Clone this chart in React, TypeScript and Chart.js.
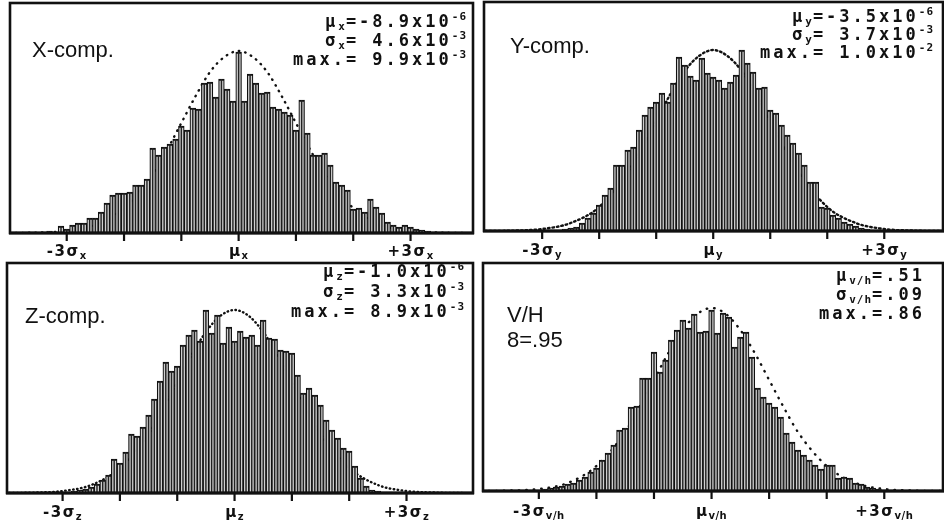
import React, { useEffect, useRef } from "react";
import { Chart, registerables } from "chart.js";

Chart.register(...registerables);

// Histogram bins are 0.1 sigma wide; bin centre = (START + i) * BIN_WIDTH (in sigma units)
const BIN_WIDTH = 0.1;

const X_START = -37;
const X_COUNTS = [1,1,0.5,1,2,1,7,4,8,10,10,15,15,21,30,38,40,40,41,48,48,54,85,78,86,89,94,107,103,125,124,150,151,136,154,144,132,181,132,159,150,140,141,126,124,121,118,103,133,100,78,78,80,68,51,48,43,24,25,21,34,26,20,11,8,6,8,6,4,3,2,1,1,1,0.5,0.5];

const Y_START = -30;
const Y_COUNTS = [0.5,1,1,1,2,3,4,8,13,18,26,36,43,66,66,81,84,101,116,124,129,138,129,148,174,166,155,151,173,158,154,151,143,149,156,181,168,159,143,144,121,118,106,96,88,78,66,49,49,24,23,16,13,9,7,5,3,2,1,1,0.5];

const Z_START = -32;
const Z_COUNTS = [0.5,1,1,1,2,3,4,6,9,13,18,34,30,41,59,57,66,78,94,112,131,122,127,148,158,163,152,183,160,178,150,166,152,162,156,158,148,173,155,154,143,142,140,118,100,105,98,88,73,63,55,45,42,27,15,7,3,2,1,1,0.5];

const VH_START = -36;
const VH_COUNTS = [0.5,0.5,1,1,1,1,1,2,3,4,5,7,8,11,14,19,23,31,38,46,61,63,84,85,113,113,139,119,131,151,161,171,163,177,159,160,181,158,178,174,144,154,159,134,103,94,88,84,74,58,49,41,36,31,26,22,26,26,13,14,13,8,7,4,3,2,1,1,0.5,0.5];

const CURVE_SIGMA = [-4,-3.5,-3,-2.5,-2,-1.5,-1.25,-1,-0.75,-0.5,-0.25,0,0.25,0.5,0.75,1,1.25,1.5,2,2.5,3,3.5,4];
const X_CURVE = [0,0.4,2,8,25,59,83,110,137,161,176,182,176,161,137,110,83,59,25,8,2,0.4,0];
const Y_CURVE = [0,0.4,2,8,24,59,83,110,137,160,175,181,175,160,137,110,83,59,24,8,2,0.4,0];
const Z_CURVE = [0,0.4,2,8,25,59,84,111,138,161,177,183,177,161,138,111,84,59,25,8,2,0.4,0];
const VH_CURVE = [0,0.4,2,8,25,59,84,111,138,161,177,183,177,161,138,111,84,59,25,8,2,0.4,0];

// Tick positions (sigma units)
const TICKS = [-3, -2, -1, 0, 1, 2, 3];

type Seg = [string, number]; // 0 normal, 1 subscript, 2 superscript

const X_STATS: Seg[][] = [
  [["μ", 0], ["x", 1], ["=-8.9x10", 0], ["-6", 2]],
  [["σ", 0], ["x", 1], ["= 4.6x10", 0], ["-3", 2]],
  [["max.= 9.9x10", 0], ["-3", 2]],
];
const Y_STATS: Seg[][] = [
  [["μ", 0], ["y", 1], ["=-3.5x10", 0], ["-6", 2]],
  [["σ", 0], ["y", 1], ["= 3.7x10", 0], ["-3", 2]],
  [["max.= 1.0x10", 0], ["-2", 2]],
];
const Z_STATS: Seg[][] = [
  [["μ", 0], ["z", 1], ["=-1.0x10", 0], ["-6", 2]],
  [["σ", 0], ["z", 1], ["= 3.3x10", 0], ["-3", 2]],
  [["max.= 8.9x10", 0], ["-3", 2]],
];
const VH_STATS: Seg[][] = [
  [["μ", 0], ["v/h", 1], ["=.51", 0]],
  [["σ", 0], ["v/h", 1], ["=.09", 0]],
  [["max.=.86", 0]],
];

interface PanelCfg {
  cl: number; ct: number; cw: number; ch: number; // canvas rect (page coords)
  fl: number; ft: number; fr: number; fb: number; // frame rect (page coords)
  xmin: number; xmax: number; ymax: number;
  start: number; counts: number[]; curve: number[];
  dash: number[];
  titles: { text: string; x: number; y: number }[];
  stats: Seg[][]; statsRight: number; statsBase: number[];
  sub: string; tickBase: number;
}

const PANELS: PanelCfg[] = [
  {
    cl: 0, ct: 0, cw: 478, ch: 260, fl: 10, ft: 3, fr: 473, fb: 233,
    xmin: -3.99, xmax: 4.09, ymax: 230, start: X_START, counts: X_COUNTS, curve: X_CURVE,
    dash: [0.5, 6],
    titles: [{ text: "X-comp.", x: 32, y: 57 }],
    stats: X_STATS, statsRight: 467, statsBase: [27, 46, 65], sub: "x", tickBase: 256,
  },
  {
    cl: 478, ct: 0, cw: 466, ch: 260, fl: 484, ft: 2, fr: 943, fb: 231,
    xmin: -4.02, xmax: 4.03, ymax: 229, start: Y_START, counts: Y_COUNTS, curve: Y_CURVE,
    dash: [1.5, 3],
    titles: [{ text: "Y-comp.", x: 510, y: 53 }],
    stats: Y_STATS, statsRight: 934, statsBase: [22, 40, 58], sub: "y", tickBase: 255,
  },
  {
    cl: 0, ct: 260, cw: 478, ch: 267, fl: 7, ft: 263, fr: 473, fb: 493,
    xmin: -3.97, xmax: 4.16, ymax: 230, start: Z_START, counts: Z_COUNTS, curve: Z_CURVE,
    dash: [0.5, 3.5],
    titles: [{ text: "Z-comp.", x: 25, y: 323 }],
    stats: Z_STATS, statsRight: 465, statsBase: [277, 297, 317], sub: "z", tickBase: 517,
  },
  {
    cl: 478, ct: 260, cw: 466, ch: 267, fl: 483, ft: 263, fr: 943, fb: 491,
    xmin: -3.97, xmax: 4.02, ymax: 228, start: VH_START, counts: VH_COUNTS, curve: VH_CURVE,
    dash: [0.5, 7],
    titles: [{ text: "V/H", x: 507, y: 322 }, { text: "8=.95", x: 507, y: 347 }],
    stats: VH_STATS, statsRight: 925, statsBase: [281, 300, 319], sub: "v/h", tickBase: 516,
  },
];

interface FontSpec { main: string; small: string; sp: number; spSmall: number; subDy: number; supDy: number }

const STATS_FONT: FontSpec = {
  main: 'bold 17px "DejaVu Sans Mono"', small: 'bold 11px "DejaVu Sans Mono"',
  sp: 3, spSmall: 1, subDy: 3, supDy: -7,
};
const TICK_FONT: FontSpec = {
  main: 'bold 15px "DejaVu Sans"', small: 'bold 10px "DejaVu Sans"',
  sp: 1.5, spSmall: 0.5, subDy: 3, supDy: -7,
};

function drawRich(ctx: CanvasRenderingContext2D, segs: Seg[], x: number, y: number, align: string, f: FontSpec) {
  const pieces: { ch: string; font: string; dy: number; w: number }[] = [];
  let total = 0;
  for (const [t, kind] of segs) {
    const font = kind === 0 ? f.main : f.small;
    const sp = kind === 0 ? f.sp : f.spSmall;
    const dy = kind === 1 ? f.subDy : kind === 2 ? f.supDy : 0;
    ctx.font = font;
    for (const ch of t) {
      const w = ctx.measureText(ch).width + sp;
      pieces.push({ ch, font, dy, w });
      total += w;
    }
  }
  let cx = align === "right" ? x - total : align === "center" ? x - total / 2 : x;
  ctx.textAlign = "left";
  ctx.textBaseline = "alphabetic";
  for (const p of pieces) {
    ctx.font = p.font;
    ctx.fillText(p.ch, cx, y + p.dy);
    cx += p.w;
  }
}

function makeFramePlugin(cfg: PanelCfg) {
  return {
    id: "frame" + cfg.cl + "_" + cfg.ct,
    afterDatasetsDraw(chart: any) {
      const ctx: CanvasRenderingContext2D = chart.ctx;
      const { left, top, right, bottom } = chart.chartArea;
      const xs = chart.scales.x;
      ctx.save();
      ctx.strokeStyle = "#111";
      ctx.fillStyle = "#111";
      ctx.lineWidth = 2.6;
      ctx.strokeRect(left, top, right - left, bottom - top);
      ctx.lineWidth = 3;
      ctx.beginPath();
      ctx.moveTo(left - 1, bottom);
      ctx.lineTo(right + 1, bottom);
      ctx.stroke();
      // tick marks
      ctx.lineWidth = 2.2;
      for (const t of TICKS) {
        const px = xs.getPixelForValue(t);
        ctx.beginPath();
        ctx.moveTo(px, bottom);
        ctx.lineTo(px, bottom + 8);
        ctx.stroke();
      }
      // tick labels
      const oy = cfg.ct;
      const labels: [number, Seg[]][] = [
        [-3, [["-3σ", 0], [cfg.sub, 1]]],
        [0, [["μ", 0], [cfg.sub, 1]]],
        [3, [["+3σ", 0], [cfg.sub, 1]]],
      ];
      for (const [v, segs] of labels) {
        drawRich(ctx, segs, xs.getPixelForValue(v), cfg.tickBase - oy, "center", TICK_FONT);
      }
      // titles
      ctx.font = '22px "Liberation Sans"';
      ctx.textAlign = "left";
      ctx.textBaseline = "alphabetic";
      for (const t of cfg.titles) ctx.fillText(t.text, t.x - cfg.cl, t.y - oy);
      // statistics
      cfg.stats.forEach((line, i) => {
        drawRich(ctx, line, cfg.statsRight - cfg.cl, cfg.statsBase[i] - oy, "right", STATS_FONT);
      });
      ctx.restore();
    },
  };
}

function Panel({ cfg }: { cfg: PanelCfg }) {
  const ref = useRef<HTMLCanvasElement>(null);
  useEffect(() => {
    const bars = cfg.counts.map((c, i) => ({ x: (cfg.start + i) * BIN_WIDTH, y: c }));
    const curve = CURVE_SIGMA.map((s, i) => ({ x: s, y: cfg.curve[i] }));
    const chart = new Chart(ref.current as HTMLCanvasElement, {
      type: "bar",
      data: {
        datasets: [
          {
            type: "line",
            data: curve,
            borderColor: "#111",
            borderWidth: 2.4,
            borderDash: cfg.dash,
            borderCapStyle: "round",
            pointRadius: 0,
            cubicInterpolationMode: "monotone",
            fill: false,
            order: 3,
          } as any,
          {
            type: "bar",
            data: bars,
            backgroundColor: "#cfcfcf",
            borderColor: "#111",
            borderWidth: { top: 2.2, left: 1.2, right: 1.2, bottom: 0 },
            borderSkipped: "start",
            barPercentage: 1,
            categoryPercentage: 1,
            grouped: false,
            order: 2,
          } as any,
          {
            type: "bar",
            data: bars,
            backgroundColor: "#222",
            borderWidth: 0,
            barPercentage: 0.25,
            categoryPercentage: 1,
            grouped: false,
            order: 1,
          } as any,
        ],
      },
      options: {
        animation: false,
        responsive: false,
        maintainAspectRatio: false,
        devicePixelRatio: 1,
        layout: {
          padding: {
            left: cfg.fl - cfg.cl,
            top: cfg.ft - cfg.ct,
            right: cfg.cl + cfg.cw - cfg.fr,
            bottom: cfg.ct + cfg.ch - cfg.fb,
          },
        },
        plugins: { legend: { display: false }, tooltip: { enabled: false } },
        scales: {
          x: { type: "linear", min: cfg.xmin, max: cfg.xmax, offset: false, display: false },
          y: { type: "linear", min: 0, max: cfg.ymax, display: false },
        },
      } as any,
      plugins: [makeFramePlugin(cfg)],
    });
    return () => chart.destroy();
  }, [cfg]);
  return (
    <canvas
      ref={ref}
      width={cfg.cw}
      height={cfg.ch}
      style={{ position: "absolute", left: cfg.cl, top: cfg.ct, width: cfg.cw, height: cfg.ch }}
    />
  );
}

export default function App() {
  return (
    <div style={{ position: "absolute", left: 0, top: 0, width: 944, height: 527, background: "#fff", overflow: "hidden" }}>
      {PANELS.map((p, i) => (
        <Panel key={i} cfg={p} />
      ))}
    </div>
  );
}
